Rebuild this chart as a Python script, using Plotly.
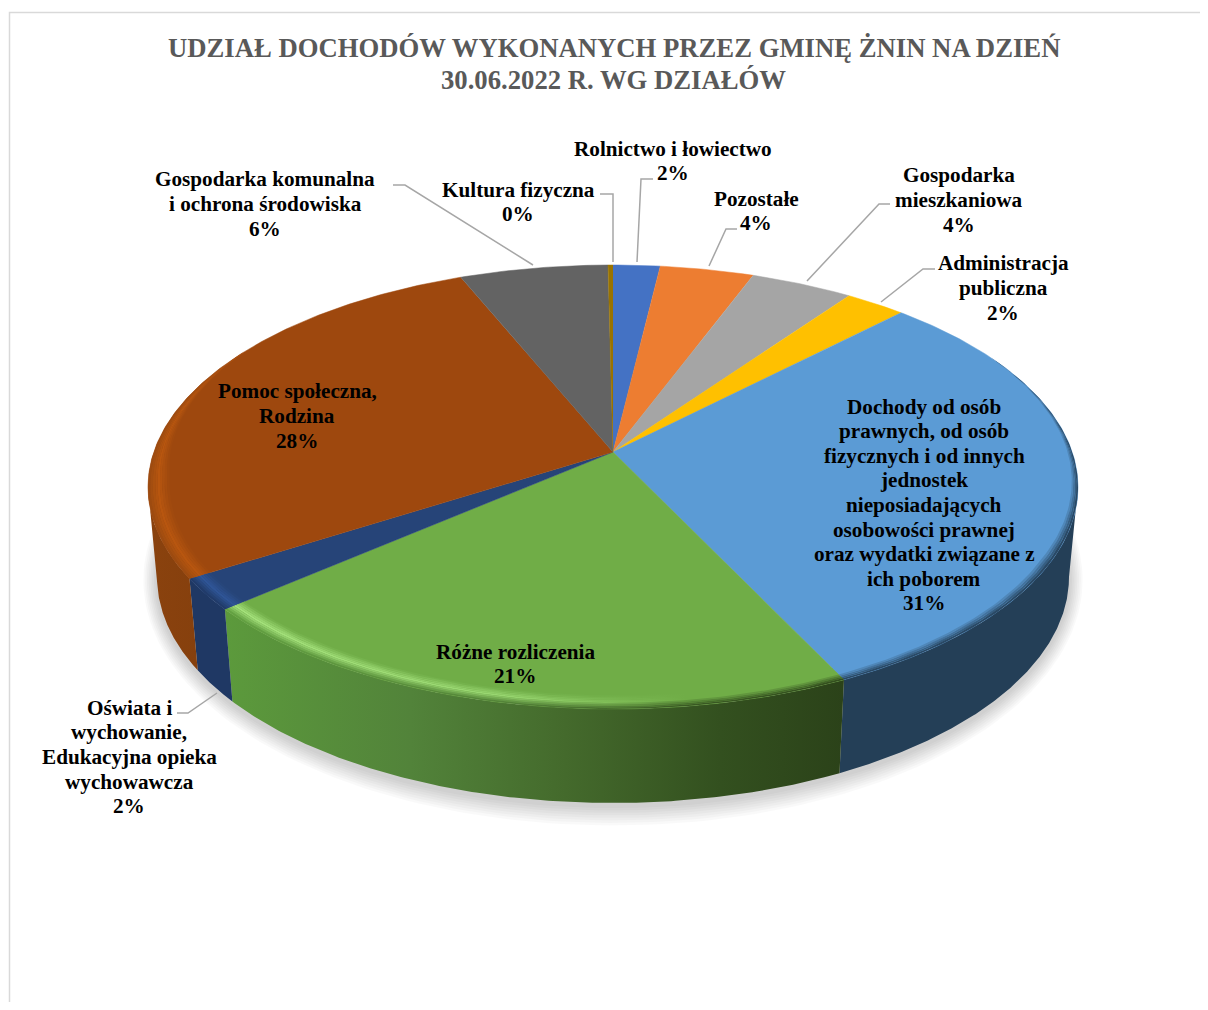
"""
3D-looking pie: Gmina Żnin income shares. Plotly has no 3D pie, so slices are
built from the values and projected onto an axis that runs in page pixels.
"""
import numpy as np
import plotly.graph_objects as go

# Data, clockwise from 12 o'clock
categories = [
    'Rolnictwo i łowiectwo',
    'Pozostałe',
    'Gospodarka<br>mieszkaniowa',
    'Administracja<br>publiczna',
    'Dochody od osób<br>prawnych, od osób<br>fizycznych i od innych<br>jednostek<br>nieposiadających<br>osobowości prawnej<br>oraz wydatki związane z<br>ich poborem',
    'Różne rozliczenia',
    'Oświata i<br>wychowanie,<br>Edukacyjna opieka<br>wychowawcza',
    'Pomoc społeczna,<br>Rodzina',
    'Gospodarka komunalna<br>i ochrona środowiska',
    'Kultura fizyczna',
]
values = [1.9, 3.8, 4.15, 2.45, 30.6, 20.8, 2.3, 27.8, 6.0, 0.2]
colors = ['#4472C4', '#ED7D31', '#A5A5A5', '#FFC000', '#5B9BD5',
          '#70AD47', '#264478', '#9E480E', '#636363', '#997300']
label_x = [673, 756, 959, 1003, 924, 515, 129, 297, 265, 518]
label_y = [161, 211, 200, 288, 505, 664, 757, 416, 204, 202]

title_lines = ['UDZIAŁ DOCHODÓW WYKONANYCH PRZEZ GMINĘ ŻNIN NA DZIEŃ',
               '30.06.2022 R. WG DZIAŁÓW']
FONT = 'Liberation Serif, serif'
LABEL_PITCH = 24.6

# Leader lines (label side -> slice side)
leaders = [
    ([653, 641, 637], [179, 179, 262]),
    ([737, 726, 709], [229, 229, 266]),
    ([890, 879, 807], [204, 204, 281]),
    ([935, 923, 881], [269, 269, 302]),
    ([177, 188, 217], [713, 713, 693]),
    ([393, 405, 533], [185, 185, 265]),
    ([600, 613, 613], [194, 194, 262]),
]

# Pie geometry in page pixels
CX, APEX_Y = 613, 452
TOP_RX, TOP_RY, TOP_CY = 465, 222, 487
BOT_RX, BOT_RY, BOT_CY = 456, 226, 577
K = (257 - 187) / (257 + 187)
S = 187 * (1 + K)
R = TOP_RX * np.sqrt(1 - K ** 2)
# angle where the top ellipse is widest, walls end there
SIDE = np.arccos(-K)

# Wall colour along x for the slices whose side shows, with angle limits
walls = {
    4: (SIDE, None, [[0, '#243F57'], [1, '#243F57']]),
    5: (None, None, [[0, '#5C9A3C'], [0.3, '#52833A'], [0.55, '#446A2C'], [0.8, '#33501F'], [1, '#2B4219']]),
    6: (None, None, [[0, '#1F3864'], [1, '#1F3864']]),
    7: (None, 2 * np.pi - SIDE, [[0, '#8A420E'], [1, '#86400D']]),
}
# Bevel: theta limits in degrees, taper toward the back, and (x stop, highlight, outer colour)
rims = {
    4: (62, None, True, [(0, '#5B9BD5', '#243F57'), (1, '#5B9BD5', '#243F57')]),
    5: (None, None, False, [(0, '#A5E27C', '#5C9A3C'), (0.45, '#98D670', '#4C7A32'),
                            (0.75, '#70AD47', '#33501F'), (1, '#70AD47', '#2B4219')]),
    6: (None, None, False, [(0, '#2F5597', '#1F3864'), (1, '#2F5597', '#1F3864')]),
    7: (None, 300, True, [(0, '#B8560F', '#9A4A10'), (1, '#B8560F', '#9A4A10')]),
}


def project(r, theta):
    x_u, y_u = r * np.sin(theta), r * np.cos(theta)
    d = 1 + K * y_u
    return CX + R * x_u / d, APEX_Y - S * y_u / d


def to_bottom(x, y):
    return CX + (x - CX) / TOP_RX * BOT_RX, BOT_CY + (y - TOP_CY) / TOP_RY * BOT_RY


def to_rgb(c):
    return np.array([int(c[i:i + 2], 16) for i in (1, 3, 5)], dtype=float)


def mix(a, b, t):
    v = to_rgb(a) * (1 - t) + to_rgb(b) * t
    return f'rgb({v[0]:.0f},{v[1]:.0f},{v[2]:.0f})'


def poly(x, y, **kw):
    return go.Scatter(x=np.asarray(x), y=np.asarray(y), mode='lines', fill='toself',
                      hoverinfo='skip', showlegend=False, **kw)


edges = np.cumsum([0] + values) / sum(values) * 2 * np.pi
fig = go.Figure()

# Page frame
fig.add_trace(go.Scatter(x=[9.5, 9.5, 1210], y=[1012, 12.5, 12.5], mode='lines',
                         line=dict(color='#D9D9D9', width=1.5),
                         hoverinfo='skip', showlegend=False))

# Soft shadow under the pie
t = np.linspace(0, 2 * np.pi, 240)
for s in np.arange(2, 21, 2.5):
    fig.add_trace(poly(CX + (BOT_RX + s * 0.7) * np.cos(t),
                       BOT_CY + 3 + (BOT_RY + s) * np.sin(t),
                       fillcolor='rgba(0,0,0,0.022)', line=dict(width=0)))

# Side walls
for i, (lo, hi, scale) in walls.items():
    th = np.linspace(edges[i] if lo is None else lo, edges[i + 1] if hi is None else hi, 160)
    x, y = project(1, th)
    bx, by = to_bottom(x, y)
    fig.add_trace(poly(np.r_[x, bx[::-1]], np.r_[y, by[::-1]],
                       fillgradient=dict(type='horizontal', colorscale=scale),
                       line=dict(width=0)))

# Top face
for i, c in enumerate(colors):
    th = np.linspace(edges[i], edges[i + 1], max(3, int(values[i] * 6)))
    x, y = project(1, th)
    fig.add_trace(poly(np.r_[CX, x], np.r_[APEX_Y, y], fillcolor=c,
                       line=dict(color=c, width=0.5)))

# Bevel rings along the front rim
RINGS = np.linspace(0.955, 1.0, 10)
for i, (lo, hi, taper, stops) in rims.items():
    a = edges[i] if lo is None else np.radians(lo)
    b = edges[i + 1] if hi is None else np.radians(hi)
    th = np.linspace(a, b, 120)
    # ring width fades out at the back end so the bevel has no hard stop
    fade = np.ones_like(th)
    if taper:
        ramp = np.clip(np.linspace(0, 1, th.size) / 0.6, 0, 1)
        fade = ramp if lo is not None else ramp[::-1]
    for j in range(len(RINGS) - 1):
        u = (j + 0.5) / (len(RINGS) - 1)
        scale = []
        for pos, hl, wall in stops:
            col = mix(colors[i], hl, u / 0.5) if u < 0.5 else mix(hl, wall, (u - 0.5) / 0.5)
            scale.append([pos, col])
        x1, y1 = project(1 - (1 - RINGS[j]) * fade, th)
        x2, y2 = project(1 - (1 - RINGS[j + 1]) * fade, th)
        fig.add_trace(poly(np.r_[x1, x2[::-1]], np.r_[y1, y2[::-1]],
                           fillgradient=dict(type='horizontal', colorscale=scale),
                           line=dict(width=0)))

# Leader lines
for lx, ly in leaders:
    fig.add_trace(go.Scatter(x=lx, y=ly, mode='lines', line=dict(color='#A6A6A6', width=1.5),
                             hoverinfo='skip', showlegend=False))

# Labels go line by line, the original leading is tighter than plotly's
for name, v, x, y in zip(categories, values, label_x, label_y):
    lines = name.split('<br>') + [f'{v:.0f}%']
    for n, line in enumerate(lines):
        fig.add_annotation(x=x, y=y + (n - (len(lines) - 1) / 2) * LABEL_PITCH,
                           text=f'<b>{line}</b>', showarrow=False,
                           xanchor='center', yanchor='middle',
                           font=dict(family=FONT, size=21.2, color='#000000'))

for line, y in zip(title_lines, [48, 80]):
    fig.add_annotation(x=613.5, y=y, text=f'<b>{line}</b>', showarrow=False,
                       xanchor='center', yanchor='middle',
                       font=dict(family=FONT, size=26.7, color='#595959'))

fig.update_layout(
    width=1200,
    height=994,
    margin=dict(l=0, r=0, t=0, b=0),
    paper_bgcolor='white',
    plot_bgcolor='white',
    # the page body sits 8px in, so the axes start at 8 to stay in page pixels
    xaxis=dict(range=[8, 1208], visible=False, fixedrange=True),
    yaxis=dict(range=[1002, 8], visible=False, fixedrange=True),
)

fig.write_html("out.html")
